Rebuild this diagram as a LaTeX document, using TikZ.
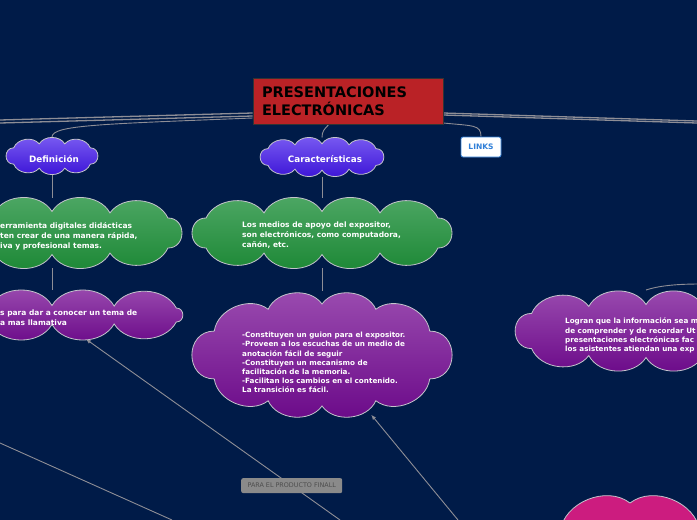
\documentclass[tikz,border=0pt]{standalone}
\usepackage{fontspec}
\setmainfont{DejaVu Sans}
\usetikzlibrary{arrows.meta,positioning,shapes.geometric,backgrounds,calc}
\definecolor{bgnavy}{HTML}{001B48}
\definecolor{titlered}{HTML}{BA2226}
\definecolor{wiregray}{HTML}{8E8E96}
\definecolor{cloudedge}{HTML}{C4C4CC}
\definecolor{bluetop}{HTML}{7A5CF2}
\definecolor{bluebot}{HTML}{3A12D6}
\definecolor{greentop}{HTML}{4FA866}
\definecolor{greenbot}{HTML}{1B8734}
\definecolor{purptop}{HTML}{9B4DB0}
\definecolor{purpbot}{HTML}{6A0888}
\definecolor{pinkfill}{HTML}{CC1C7F}
\definecolor{linkblue}{HTML}{2F7FD8}
\definecolor{tagfill}{HTML}{8A8A8A}
\definecolor{tagtext}{HTML}{4D4D4D}

% cloud: name, centre, half width, half height, guide a, guide b, side angle, puffs per side, look
\newcommand{\puffcloud}[9]{%
  \node[cloudcore, minimum width={2*#3}, minimum height={2*#4}] (#1) at (#2) {};
  \path[#9, shift={(#2)}] ({#5*cos(#7)},{-#6*sin(#7)})
    to[bend left=90, looseness=1.6] ({#5*cos(#7)},{#6*sin(#7)})
    \foreach \j in {1,...,#8} {
      to[bend left=60] ({#5*cos(#7)*(1-2*\j/#8)},{#6*sqrt(1-(cos(#7)*(1-2*\j/#8))*(cos(#7)*(1-2*\j/#8)))}) }
    to[bend left=90, looseness=1.6] ({-#5*cos(#7)},{-#6*sin(#7)})
    \foreach \j in {1,...,#8} {
      to[bend left=60] ({-#5*cos(#7)*(1-2*\j/#8)},{-#6*sqrt(1-(cos(#7)*(1-2*\j/#8))*(cos(#7)*(1-2*\j/#8)))}) }
    -- cycle;
}

\begin{document}
\begin{tikzpicture}[x=1pt, y=-1pt,
  every node/.style={font=\fontsize{7.5}{10}\selectfont\bfseries, text=white},
  titlebox/.style={rectangle, fill=titlered, draw=black!80, line width=0.6pt,
    minimum width=190, minimum height=46, text width=172, inner sep=0pt,
    align=left, text=black, font=\fontsize{14.5}{18}\selectfont\bfseries},
  cloudcore/.style={ellipse, inner sep=0pt, outer sep=0pt},
  puffline/.style={draw=cloudedge, line width=0.8pt},
  bluecloud/.style={puffline, top color=bluetop, bottom color=bluebot},
  greencloud/.style={puffline, top color=greentop, bottom color=greenbot},
  purpcloud/.style={puffline, top color=purptop, bottom color=purpbot},
  pinkcloud/.style={puffline, fill=pinkfill},
  cloudlabel/.style={inner sep=0pt, font=\fontsize{8.8}{10}\selectfont\bfseries},
  cloudtext/.style={align=left, anchor=north west, inner sep=0pt},
  linkbox/.style={rectangle, rounded corners=2pt, fill=white, draw=linkblue,
    line width=0.8pt, minimum width=40, minimum height=20, text=linkblue,
    font=\fontsize{7.5}{8}\selectfont\bfseries},
  tag/.style={rectangle, rounded corners=2pt, fill=tagfill, text=tagtext,
    minimum width=101, minimum height=15, inner xsep=3pt,
    font=\fontsize{6.4}{7}\selectfont},
  wire/.style={draw=wiregray, line width=0.9pt},
  mainwire/.style={draw=wiregray, line width=1.3pt},
  arr/.style={wire, -{Latex[length=5pt, width=4pt]}},
]
\useasboundingbox (0,0) rectangle (697,520);
\clip (0,0) rectangle (697,520);
\begin{scope}[on background layer]
  \fill[bgnavy] (0,0) rectangle (697,520);
\end{scope}

% free ends of the cut connectors
\coordinate (offL1) at (0,120);
\coordinate (offL2) at (0,123);
\coordinate (offR1) at (697,121);
\coordinate (offR2) at (697,123);
\coordinate (offR3) at (700,284);
\coordinate (offA) at (340,520);
\coordinate (offB) at (458,520);
\coordinate (offC1) at (0,443);
\coordinate (offC2) at (172,520);

% nodes
\node[titlebox] (title) at (348,101) {PRESENTACIONES\\ELECTRÓNICAS};
\node[linkbox] (links) at (481,147) {LINKS};

\puffcloud{def}{52,156}{46}{19}{50.7}{12.5}{41}{3}{bluecloud}
\puffcloud{car}{322,157}{62}{19.5}{70}{13.2}{39.5}{4}{bluecloud}
\puffcloud{green1}{52,233}{130}{35}{162}{21.5}{44.3}{4}{greencloud}
\puffcloud{green2}{322,233}{130}{35}{162}{21.5}{44.3}{4}{greencloud}
\puffcloud{purp1}{52,315}{131}{25}{184}{9.5}{47.5}{4}{purpcloud}
\puffcloud{purp2}{322,355}{130.5}{64.5}{122}{51}{28}{4}{purpcloud}
\puffcloud{purp3}{646,331}{131}{41}{153}{26.5}{41.6}{4}{purpcloud}
\puffcloud{pink}{630,603}{110}{110}{100}{100}{45.6}{2}{pinkcloud}

\node[cloudlabel] (deftxt) at (54,159) {Definición};
\node[cloudlabel] (cartxt) at (325,159) {Características};
\node[cloudtext] (green1txt) at (0,222) {erramienta digitales didácticas\\ten crear de una manera rápida,\\iva y profesional temas.};
\node[cloudtext] (green2txt) at (242,222) {Los medios de apoyo del expositor,\\son electrónicos, como computadora,\\cañón, etc.};
\node[cloudtext] (purp1txt) at (0,310) {s para dar a conocer un tema de\\a mas llamativa};
\node[cloudtext, font=\fontsize{7.2}{9.2}\selectfont\bfseries] (purp2txt) at (242,332) {-Constituyen un guion para el expositor.\\-Proveen a los escuchas de un medio de\\anotación fácil de seguir\\-Constituyen un mecanismo de\\facilitación de la memoria.\\-Facilitan los cambios en el contenido.\\ La transición es fácil.};
\node[cloudtext, font=\fontsize{7.2}{9.3}\selectfont\bfseries] (purp3txt) at (565,318) {Logran que la información sea m\\de comprender y de recordar Ut\\presentaciones electrónicas fac\\los asistentes atiendan una exp};

% connectors, behind the clouds
\begin{scope}[on background layer]
\draw[mainwire] ([yshift=-12pt]title.west) -- (offL1);
\draw[mainwire] ([yshift=-15pt]title.west) -- (offL2);
\draw[mainwire] ([yshift=-12pt]title.east) -- (offR1);
\draw[mainwire] ([yshift=-14pt]title.east) -- (offR2);
\draw[wire] ([yshift=-17pt]title.west) .. controls +(-150,6) and +(0,-12) .. (def.north);
\draw[wire] ([xshift=-19pt]title.south) .. controls +(-5,5) and +(0,-6) .. (car.north);
\draw[wire] ([yshift=-22pt]title.east) .. controls +(30,3) and +(0,-12) .. (links.north);
\draw[wire] (def) -- (green1);
\draw[wire] (green1) -- (purp1);
\draw[wire] (car) -- (green2);
\draw[wire] (green2) -- (purp2);
\draw[wire] (purp3.north) .. controls +(12,-4) and +(-25,0) .. (offR3);
\draw[wire] (offC1) -- (offC2);
\draw[arr] (offA) -- node[tag, pos=0.19] (final) {PARA EL PRODUCTO FINALL} (purp1);
\draw[arr] (offB) -- (purp2);
\end{scope}
\end{tikzpicture}
\end{document}
